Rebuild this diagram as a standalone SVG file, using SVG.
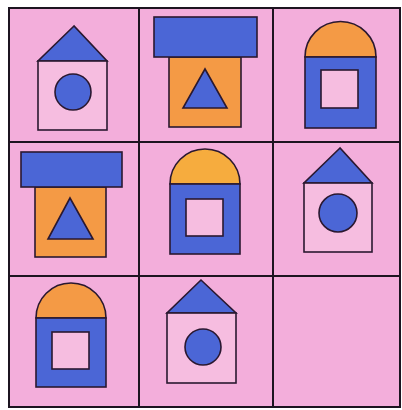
<svg xmlns="http://www.w3.org/2000/svg" width="402" height="410" viewBox="0 0 402 410">
<style>
.cell{fill:#f3aedb}
.grid{stroke:#1c1420;stroke-width:2;fill:none}
.s{stroke:#2a1830;stroke-width:1.6}
.blue{fill:#4b66d6}
.orange{fill:#f49a45}
.yellow{fill:#f6ac3e}
.pinkf{fill:#f6bde0}
</style>
<rect x="0" y="0" width="402" height="410" fill="#ffffff"/>
<rect class="cell" x="9" y="8" width="392" height="399"/>
<g class="grid">
<rect x="9" y="8" width="391" height="399"/>
<line x1="139" y1="8" x2="139" y2="407"/>
<line x1="273" y1="8" x2="273" y2="407"/>
<line x1="9" y1="142" x2="400" y2="142"/>
<line x1="9" y1="276" x2="400" y2="276"/>
</g>
<g id="house1">
<polygon class="blue s" points="74,26 38,61 107,61"/>
<rect class="pinkf s" x="38" y="61" width="69" height="69"/>
<circle class="blue s" cx="73" cy="92" r="18"/>
</g>
<g id="tower1">
<rect class="orange s" x="169" y="57" width="72" height="70"/>
<rect class="blue s" x="154" y="17" width="103" height="40"/>
<polygon class="blue s" points="205,69 183,108 227,108"/>
</g>
<g id="arch1">
<path class="orange s" d="M305,57 A35.5,35.5 0 0 1 376,57 Z"/>
<rect class="blue s" x="305" y="57" width="71" height="71"/>
<rect class="pinkf s" x="321" y="70" width="37" height="38"/>
</g>
<g id="tower2">
<rect class="orange s" x="35" y="187" width="71" height="70"/>
<rect class="blue s" x="21" y="152" width="101" height="35"/>
<polygon class="blue s" points="70,198 48,239 93,239"/>
</g>
<g id="arch2">
<path class="yellow s" d="M170,184 A35,35 0 0 1 240,184 Z"/>
<rect class="blue s" x="170" y="184" width="70" height="70"/>
<rect class="pinkf s" x="186" y="199" width="37" height="37"/>
</g>
<g id="house2">
<polygon class="blue s" points="340,148 304,183 372,183"/>
<rect class="pinkf s" x="304" y="183" width="68" height="69"/>
<circle class="blue s" cx="338" cy="213" r="19"/>
</g>
<g id="arch3">
<path class="orange s" d="M36,318 A35,35 0 0 1 106,318 Z"/>
<rect class="blue s" x="36" y="318" width="70" height="69"/>
<rect class="pinkf s" x="52" y="332" width="37" height="37"/>
</g>
<g id="house3">
<polygon class="blue s" points="201,280 167,313 236,313"/>
<rect class="pinkf s" x="167" y="313" width="69" height="70"/>
<circle class="blue s" cx="203" cy="347" r="18"/>
</g>
</svg>
